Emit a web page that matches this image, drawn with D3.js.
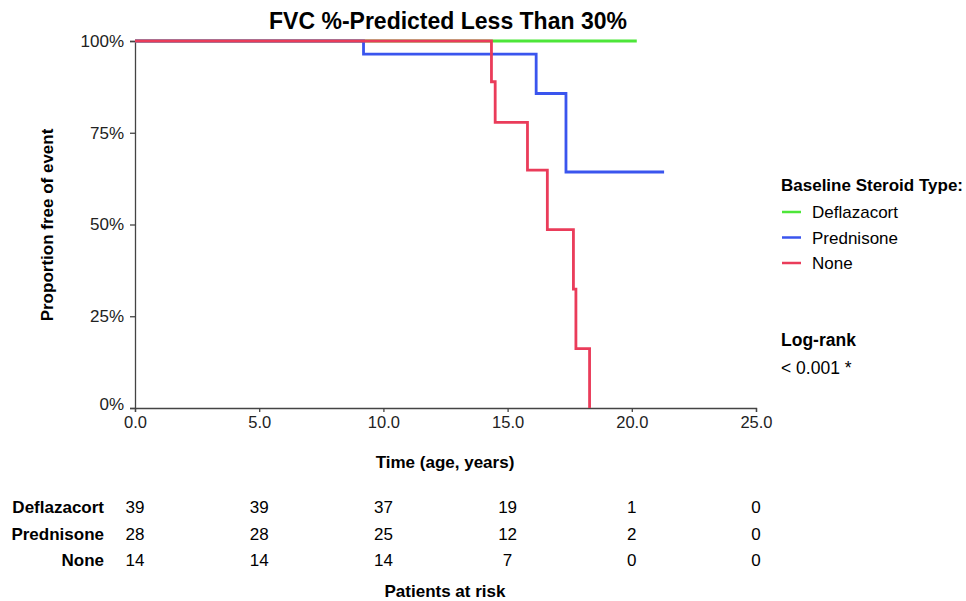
<!DOCTYPE html>
<html>
<head>
<meta charset="utf-8">
<script src="https://cdn.jsdelivr.net/npm/d3@7"></script>
<style>
  body { margin: 0; background: #fff; }
  svg { font-family: "Liberation Sans", Arial, sans-serif; }
</style>
</head>
<body>
<div id="chart"></div>
<script>
// step curves: [time, survival]
const deflazacort = [[0, 1], [20.2, 1]];
const prednisone = [[0, 1], [9.2, 0.964], [16.15, 0.857], [17.35, 0.643], [21.3, 0.643]];
const none = [[0, 1], [14.35, 0.889], [14.5, 0.778], [15.8, 0.648], [16.6, 0.486], [17.65, 0.324], [17.75, 0.162], [18.3, 0]];

const seriesNames = ["Deflazacort", "Prednisone", "None"];
const seriesColors = ["#4de639", "#3a55ee", "#ea3c5a"];
const seriesData = [deflazacort, prednisone, none];

const riskTimes = [0, 5, 10, 15, 20, 25];
const riskDeflazacort = [39, 39, 37, 19, 1, 0];
const riskPrednisone = [28, 28, 25, 12, 2, 0];
const riskNone = [14, 14, 14, 7, 0, 0];
const riskRows = [riskDeflazacort, riskPrednisone, riskNone];

const xTicks = [0, 5, 10, 15, 20, 25];
const yTicks = [0, 0.25, 0.5, 0.75, 1];

const W = 966, H = 601;
const svg = d3.select("#chart").append("svg")
  .attr("width", W).attr("height", H);

const x = d3.scaleLinear().domain([0, 25]).range([135, 756]);
const y = d3.scaleLinear().domain([0, 1]).range([408, 41]);

// title
svg.append("text")
  .attr("x", 448).attr("y", 29)
  .attr("text-anchor", "middle")
  .style("font-size", "23px").style("font-weight", "bold")
  .text("FVC %-Predicted Less Than 30%");

// axes
const xAxis = svg.append("g")
  .attr("transform", "translate(0,408)")
  .call(d3.axisBottom(x).tickValues(xTicks).tickSize(4).tickFormat(d3.format(".1f")));
xAxis.selectAll("text").style("font-size", "16.5px").attr("fill", "#222").attr("y", 2).attr("dy", "1.08em");

const yAxis = svg.append("g")
  .attr("transform", "translate(135,0)")
  .call(d3.axisLeft(y).tickValues(yTicks).tickSize(5).tickFormat(d3.format(".0%")));
yAxis.selectAll("text").style("font-size", "17px").attr("fill", "#222").attr("x", -11);
yAxis.selectAll("text").filter(d => d === 0).attr("dy", "0.1em");

svg.selectAll(".domain, .tick line").attr("stroke", "#444").attr("stroke-width", 1.3);

// curves
const line = d3.line().x(d => x(d[0])).y(d => y(d[1])).curve(d3.curveStepAfter);
svg.append("g").selectAll("path")
  .data(seriesData)
  .join("path")
  .attr("d", line)
  .attr("fill", "none")
  .attr("stroke", (d, i) => seriesColors[i])
  .attr("stroke-width", 2.8);

// axis labels
svg.append("text")
  .attr("transform", "translate(53,225) rotate(-90)")
  .attr("text-anchor", "middle")
  .style("font-size", "17px").style("font-weight", "bold")
  .text("Proportion free of event");

svg.append("text")
  .attr("x", 445).attr("y", 468)
  .attr("text-anchor", "middle")
  .style("font-size", "17px").style("font-weight", "bold")
  .text("Time (age, years)");

// legend
const legend = svg.append("g");
legend.append("text")
  .attr("x", 781).attr("y", 191)
  .style("font-size", "17px").style("font-weight", "bold")
  .text("Baseline Steroid Type:");
seriesNames.forEach((name, i) => {
  const ly = 212 + i * 25.5;
  legend.append("line")
    .attr("x1", 782).attr("x2", 801).attr("y1", ly).attr("y2", ly)
    .attr("stroke", seriesColors[i]).attr("stroke-width", 2.5);
  legend.append("text")
    .attr("x", 812).attr("y", ly + 6)
    .style("font-size", "17px")
    .text(name);
});
legend.append("text")
  .attr("x", 781).attr("y", 346)
  .style("font-size", "17.5px").style("font-weight", "bold")
  .text("Log-rank");
legend.append("text")
  .attr("x", 781).attr("y", 374)
  .style("font-size", "17.5px")
  .text("< 0.001 *");

// risk table
const table = svg.append("g");
riskRows.forEach((row, r) => {
  const ry = 513 + r * 26.5;
  table.append("text")
    .attr("x", 104).attr("y", ry)
    .attr("text-anchor", "end")
    .style("font-size", "17px").style("font-weight", "bold")
    .text(seriesNames[r]);
  table.selectAll(null)
    .data(row)
    .join("text")
    .attr("x", (d, i) => x(riskTimes[i]))
    .attr("y", ry)
    .attr("text-anchor", "middle")
    .style("font-size", "17px")
    .text(d => d);
});

svg.append("text")
  .attr("x", 445).attr("y", 597)
  .attr("text-anchor", "middle")
  .style("font-size", "17px").style("font-weight", "bold")
  .text("Patients at risk");
</script>
</body>
</html>
